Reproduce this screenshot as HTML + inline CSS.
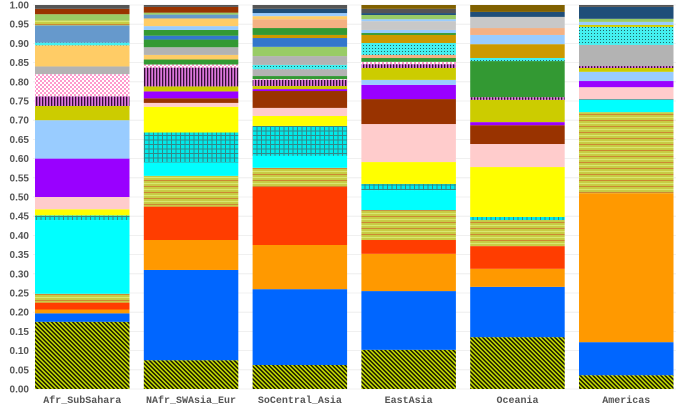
<!DOCTYPE html>
<html><head><meta charset="utf-8"><style>
html,body{margin:0;padding:0;background:#fff;}
svg{display:block;font-family:"Liberation Sans",sans-serif;}
</style></head><body>
<svg id="chart" width="676" height="407" viewBox="0 0 676 407" xmlns="http://www.w3.org/2000/svg">
<defs>
<pattern id="p-hatch" width="3" height="3" patternUnits="userSpaceOnUse" patternTransform="rotate(-45)">
<rect width="3" height="3" fill="#c8e000"/><rect width="1.5" height="3" fill="#1a1a00"/></pattern>
<pattern id="p-stripes" width="6" height="6" patternUnits="userSpaceOnUse">
<rect width="6" height="6" fill="#c8cc44"/><rect y="0" width="6" height="1" fill="#cc8833"/><rect y="3" width="6" height="1" fill="#d8e870"/></pattern>
<pattern id="p-grid" width="4.5" height="4.5" patternUnits="userSpaceOnUse">
<rect width="4.5" height="4.5" fill="#00eaea"/><rect width="1" height="4.5" fill="#338888"/><rect width="4.5" height="1" fill="#338888"/></pattern>
<pattern id="p-violet" width="3" height="3" patternUnits="userSpaceOnUse">
<rect width="3" height="3" fill="#dd77dd"/><rect width="1.3" height="3" fill="#331133"/></pattern>
<pattern id="p-check" width="4" height="4" patternUnits="userSpaceOnUse">
<rect width="4" height="4" fill="#fff"/><rect width="2" height="2" fill="#ff99cc"/><rect x="2" y="2" width="2" height="2" fill="#ff99cc"/></pattern>
<pattern id="p-dots" width="3" height="3" patternUnits="userSpaceOnUse">
<rect width="3" height="3" fill="#44f0f0"/><rect width="1" height="1" fill="#226666"/></pattern>
</defs>
<g id="grid"></g><g id="bars"></g><g id="axes"></g>
</svg>
<script>
const regions = ["Afr_SubSahara","NAfr_SWAsia_Eur","SoCentral_Asia","EastAsia","Oceania","Americas"];
const yTicks = [0,0.05,0.1,0.15,0.2,0.25,0.3,0.35,0.4,0.45,0.5,0.55,0.6,0.65,0.7,0.75,0.8,0.85,0.9,0.95,1.0];
const colors = {hatch:"url(#p-hatch)",blue:"#0066ff",orange:"#ff9900",red:"#ff3d00",stripes:"url(#p-stripes)",cyan:"#00ffff",grid:"url(#p-grid)",yellow:"#ffff00",pink:"#ffcccc",brown:"#993300",purple:"#9900ff",lightblue:"#99ccff",olive:"#cccc00",violet:"url(#p-violet)",check:"url(#p-check)",gray:"#b3b3b3",lightorange:"#ffcc66",dots:"url(#p-dots)",green:"#339933",steel:"#3377cc",steel2:"#6699cc",lightgreen:"#99cc66",gold:"#cc9900",salmon:"#f4b183",lightgray:"#c8c8c8",navy:"#1f4e79",darkolive:"#806000",darkgray:"#555555"};
// segment categories (bottom to top) and cumulative tops for each region
const segAfr = ["hatch","blue","orange","red","stripes","cyan","grid","yellow","pink","purple","lightblue","olive","violet","check","gray","lightorange","dots","steel2","stripes","lightgreen","brown","darkgray"];
const topAfr = [0.175,0.197,0.207,0.225,0.248,0.44,0.452,0.468,0.50,0.60,0.70,0.737,0.762,0.82,0.84,0.895,0.902,0.947,0.96,0.976,0.99,1.0];
const segNAfr = ["hatch","blue","orange","red","stripes","cyan","grid","yellow","pink","brown","purple","olive","violet","check","green","lightorange","gray","green","steel","green","lightblue","lightorange","steel2","lightgreen","brown","darkgray"];
const topNAfr = [0.075,0.31,0.388,0.475,0.555,0.59,0.668,0.735,0.745,0.757,0.775,0.788,0.837,0.845,0.858,0.87,0.89,0.91,0.92,0.935,0.945,0.965,0.975,0.98,0.995,1.0];
const segSoC = ["hatch","blue","orange","red","stripes","cyan","grid","yellow","pink","brown","purple","olive","violet","check","green","gray","dots","gray","lightgreen","steel","gold","green","salmon","lightorange","lightblue","navy","darkgray"];
const topSoC = [0.0625,0.26,0.375,0.526,0.576,0.607,0.685,0.711,0.732,0.776,0.781,0.789,0.805,0.807,0.815,0.833,0.844,0.867,0.891,0.914,0.922,0.94,0.963,0.971,0.979,0.99,1.0];
const segEast = ["hatch","blue","orange","red","stripes","cyan","grid","yellow","pink","brown","purple","lightblue","olive","violet","check","green","salmon","dots","gold","green","lightblue","lightgray","lightblue","lightgreen","navy","darkgray","darkolive"];
const topEast = [0.102,0.255,0.352,0.388,0.466,0.518,0.534,0.591,0.69,0.755,0.792,0.805,0.836,0.846,0.852,0.862,0.87,0.901,0.922,0.927,0.935,0.958,0.963,0.974,0.979,0.99,1.0];
const segOce = ["hatch","blue","orange","red","stripes","grid","yellow","pink","brown","purple","olive","violet","green","dots","gold","lightblue","salmon","lightgray","navy","darkolive"];
const topOce = [0.135,0.266,0.313,0.372,0.44,0.448,0.578,0.638,0.687,0.695,0.753,0.76,0.854,0.862,0.898,0.922,0.94,0.969,0.982,1.0];
const segAm = ["hatch","blue","orange","stripes","cyan","grid","pink","purple","lightblue","olive","violet","gray","dots","olive","lightblue","lightgreen","navy","darkgray"];
const topAm = [0.036,0.122,0.51,0.721,0.753,0.755,0.786,0.802,0.826,0.836,0.841,0.896,0.943,0.948,0.956,0.964,0.995,1.0];

const segs = [segAfr,segNAfr,segSoC,segEast,segOce,segAm];
const tops = [topAfr,topNAfr,topSoC,topEast,topOce,topAm];
const NS="http://www.w3.org/2000/svg";
const y0=389, y1=5;
function yScale(v){return y0-(y0-y1)*v;}
const plotL=33, step=108.8, barW=94.5;
function xScale(i){return plotL+2+i*step;}
const gGrid=document.getElementById('grid'), gBars=document.getElementById('bars'), gAxes=document.getElementById('axes');
yTicks.forEach(t=>{
  const l=document.createElementNS(NS,'line');
  
  
  l.setAttribute('x1',plotL);l.setAttribute('x2',676);l.setAttribute('y1',yScale(t));l.setAttribute('y2',yScale(t));
  l.setAttribute('stroke','#ebebeb');l.setAttribute('stroke-width','0.8');
  gGrid.appendChild(l);
  const tx=document.createElementNS(NS,'text');
  
  
  tx.setAttribute('x',29);tx.setAttribute('y',yScale(t)+3.5);tx.setAttribute('text-anchor','end');
  tx.setAttribute('font-size','10');tx.setAttribute('font-weight','bold');tx.setAttribute('fill','#555');
  tx.textContent=t.toFixed(2);
  gAxes.appendChild(tx);
});
regions.forEach((r,i)=>{
  let prev=0;
  segs[i].forEach((c,j)=>{
    const t=tops[i][j];
    const rc=document.createElementNS(NS,'rect');
    
    
    rc.setAttribute('x',xScale(i));rc.setAttribute('width',barW);
    rc.setAttribute('y',yScale(t));rc.setAttribute('height',Math.max(0,yScale(prev)-yScale(t)));
    rc.setAttribute('fill',colors[c]);
    gBars.appendChild(rc);
    prev=t;
  });
  const tx=document.createElementNS(NS,'text');
  
  
  tx.setAttribute('x',xScale(i)+barW/2);tx.setAttribute('y',403);tx.setAttribute('text-anchor','middle');
  tx.setAttribute('font-size','10');tx.setAttribute('font-weight','bold');tx.setAttribute('font-family','"Liberation Mono",monospace');tx.setAttribute('fill','#555');
  tx.textContent=r;
  gAxes.appendChild(tx);
});
</script>
</body></html>
